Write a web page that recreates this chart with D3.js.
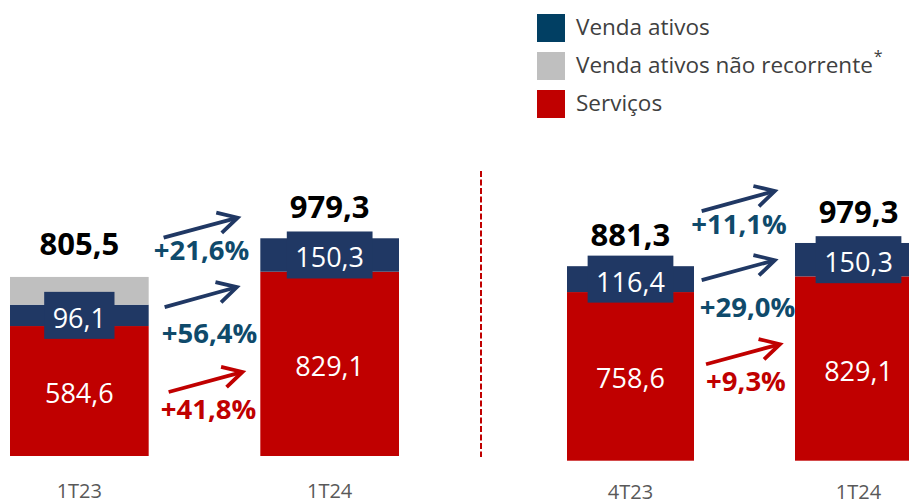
<!DOCTYPE html>
<html><head><meta charset="utf-8">
<script src="https://cdn.jsdelivr.net/npm/d3@7"></script>
<style>html,body{margin:0;padding:0;background:#fff;overflow:hidden}</style>
</head><body><svg id="c" width="909" height="504"></svg>
<script>
// ---- data ----
const categories = ['1T23', '1T24', '4T23', '1T24'];
const servicos = [584.6, 829.1, 758.6, 829.1];
const vendaAtivos = [96.1, 150.3, 116.4, 150.3];
const vendaNaoRecorrente = [124.8, 0, 0, 0];
const totals = [805.5, 979.3, 881.3, 979.3];
const growthLeft = ['+21,6%', '+56,4%', '+41,8%'];
const growthRight = ['+11,1%', '+29,0%', '+9,3%'];
const legendLabels = ['Venda ativos', 'Venda ativos não recorrente', 'Serviços'];

// ---- styles / layout ----
const C = { navy: '#203864', legendNavy: '#013f63', gray: '#bfbfbf', red: '#c00000', teal: '#0f4a6b', text: '#404040', axis: '#595959' };
const FONT = "'Open Sans', 'Noto Sans', sans-serif";
const svg = d3.select('#c');
const loc = d3.formatLocale({ decimal: ',', thousands: '.', grouping: [3], currency: ['R$', ''] });
const fmt = loc.format('.1f');

const yL = d3.scaleLinear().domain([0, 1000]).range([456, 233.7]);
const yR = d3.scaleLinear().domain([0, 1000]).range([460.7, 238.4]);
const xL = d3.scaleBand().domain([0, 1]).range([10, 399]).paddingInner(0.446);
const xR = d3.scaleBand().domain([2, 3]).range([567, 922]).paddingInner(0.443);
const xOf = i => (i < 2 ? xL : xR);
const yOf = i => (i < 2 ? yL : yR);

const idx = d3.range(categories.length);
const rows = idx.map(i => ({ i, servicos: servicos[i], vendaAtivos: vendaAtivos[i], vendaNaoRecorrente: vendaNaoRecorrente[i] }));
const keys = ['servicos', 'vendaAtivos', 'vendaNaoRecorrente'];
const colors = { servicos: C.red, vendaAtivos: C.navy, vendaNaoRecorrente: C.gray };
const stack = d3.stack().keys(keys)(rows);

// bars
stack.forEach(layer => {
  svg.append('g').selectAll('rect').data(layer.filter(d => d[1] > d[0])).join('rect')
    .attr('x', d => xOf(d.data.i)(d.data.i))
    .attr('width', d => xOf(d.data.i).bandwidth())
    .attr('y', d => yOf(d.data.i)(d[1]))
    .attr('height', d => yOf(d.data.i)(d[0]) - yOf(d.data.i)(d[1]))
    .attr('fill', colors[layer.key]);
});

// divider
svg.append('line').attr('x1', 481).attr('x2', 481).attr('y1', 171).attr('y2', 457)
  .attr('stroke', C.red).attr('stroke-width', 2).attr('stroke-dasharray', '6,2.5');

// servicos labels
idx.forEach(i => {
  const x = xOf(i)(i) + xOf(i).bandwidth() / 2;
  const y = (yOf(i)(0) + yOf(i)(servicos[i])) / 2;
  svg.append('text').attr('x', x).attr('y', y + 12).attr('text-anchor', 'middle')
    .attr('font-family', FONT).attr('font-size', 27).attr('fill', '#fff').text(fmt(servicos[i]));
});

// venda ativos labels with box
idx.forEach(i => {
  const x = xOf(i)(i) + xOf(i).bandwidth() / 2;
  const y = (yOf(i)(servicos[i]) + yOf(i)(servicos[i] + vendaAtivos[i])) / 2;
  const g = svg.append('g');
  const rect = g.append('rect').attr('fill', C.navy);
  const t = g.append('text').attr('x', x).attr('y', y + 12.5).attr('text-anchor', 'middle')
    .attr('font-family', FONT).attr('font-size', 27).attr('fill', '#fff').text(fmt(vendaAtivos[i]));
  const w = t.node().getComputedTextLength() + 17;
  rect.attr('x', x - w / 2).attr('width', w).attr('y', y - 23.5).attr('height', 47);
});

// totals
idx.forEach(i => {
  const x = xOf(i)(i) + xOf(i).bandwidth() / 2;
  const yTop = yOf(i)(servicos[i] + vendaAtivos[i] + vendaNaoRecorrente[i]);
  const off = vendaNaoRecorrente[i] > 0 ? 22 : 20;
  svg.append('text').attr('x', x).attr('y', yTop - off).attr('text-anchor', 'middle')
    .attr('font-family', FONT).attr('font-weight', 700).attr('font-size', 31).attr('fill', '#000').text(fmt(totals[i]));
});

// x axis labels
idx.forEach(i => {
  const x = xOf(i)(i) + xOf(i).bandwidth() / 2;
  svg.append('text').attr('x', x).attr('y', i < 2 ? yOf(i)(0) + 42 : 498.5).attr('text-anchor', 'middle')
    .attr('font-family', FONT).attr('font-size', 20).attr('fill', C.axis).text(categories[i]);
});

// growth arrows + labels
const annLeft = {
  scale: yL, gap: [xL(0) + xL.bandwidth(), xL(1)], labels: growthLeft,
  arrows: [{ s: 982, f0: 0.134, f1: 0.797 }, { s: 670, f0: 0.143, f1: 0.79 }, { s: 288, f0: 0.179, f1: 0.84 }],
  text: [{ b: 882, f: 0.473 }, { b: 508, f: 0.545 }, { b: 166, f: 0.536 }]
};
const annRight = {
  scale: yR, gap: [xR(2) + xR.bandwidth(), xR(3)], labels: growthRight,
  arrows: [{ s: 1123, f0: 0.076, f1: 0.8 }, { s: 812, f0: 0.076, f1: 0.8 }, { s: 434, f0: 0.119, f1: 0.851 }],
  text: [{ b: 1020, f: 0.446 }, { b: 648, f: 0.53 }, { b: 315, f: 0.515 }]
};
const arrowColor = [C.navy, C.navy, C.red];
const textColor = [C.teal, C.teal, C.red];
[annLeft, annRight].forEach(a => {
  const gx = f => a.gap[0] + f * (a.gap[1] - a.gap[0]);
  a.arrows.forEach((ar, k) => {
    const x0 = gx(ar.f0), x1 = gx(ar.f1), y0 = a.scale(ar.s), y1 = y0 - 20;
    const ang = Math.atan2(y0 - y1, x0 - x1);
    const L = 22, da = 0.5;
    const p1 = [x1 + L * Math.cos(ang - da), y1 + L * Math.sin(ang - da)];
    const p2 = [x1 + L * Math.cos(ang + da), y1 + L * Math.sin(ang + da)];
    svg.append('line').attr('x1', x0).attr('y1', y0).attr('x2', x1 - 1.5 * Math.cos(ang + Math.PI)).attr('y2', y1 - 1.5 * Math.sin(ang + Math.PI))
      .attr('stroke', arrowColor[k]).attr('stroke-width', 3.8);
    svg.append('path').attr('d', `M${p1[0]},${p1[1]}L${x1},${y1}L${p2[0]},${p2[1]}`)
      .attr('fill', 'none').attr('stroke', arrowColor[k]).attr('stroke-width', 3.8).attr('stroke-linejoin', 'miter');
  });
  a.text.forEach((t, k) => {
    svg.append('text').attr('x', gx(t.f)).attr('y', a.scale(t.b)).attr('text-anchor', 'middle')
      .attr('font-family', FONT).attr('font-weight', 700).attr('font-size', 27.5).attr('fill', textColor[k]).text(a.labels[k]);
  });
});

// legend
const legColors = [C.legendNavy, C.gray, C.red];
const lg = svg.append('g');
legendLabels.forEach((lab, k) => {
  const y = 14 + k * 38;
  lg.append('rect').attr('x', 537).attr('y', y).attr('width', 28).attr('height', 28).attr('fill', legColors[k]);
  const t = lg.append('text').attr('x', 576).attr('y', y + 20.5).attr('font-family', FONT).attr('font-size', 22.5).attr('fill', C.text).text(lab);
  if (k === 1) t.append('tspan').attr('font-size', 16).attr('dy', -11).attr('dx', 1).text('*');
});
</script></body></html>
